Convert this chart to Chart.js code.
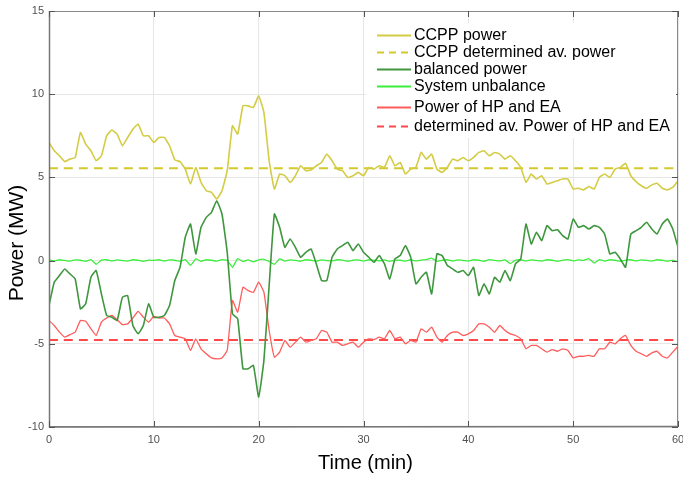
<!DOCTYPE html>
<html>
<head>
<meta charset="utf-8">
<script src="https://cdn.jsdelivr.net/npm/chart.js@4/dist/chart.umd.min.js"></script>
<style>
  html, body { margin: 0; padding: 0; background: #ffffff; }
  #wrap { width: 683px; height: 477px; position: relative; }
</style>
</head>
<body>
<div id="wrap"><canvas id="c" width="683" height="477"></canvas></div>
<script>
// ---- data (time step 0.5 min, 0..60) ----
const timeMin = Array.from({length: 121}, (_, i) => i * 0.5);

const ccppPower = [
  7.1, 6.6, 6.3, 5.95, 6.1, 6.2, 7.7, 7.0, 6.6, 6.0,
  6.3, 7.5, 7.85, 7.6, 6.9, 7.4, 7.9, 8.2, 7.5, 7.5,
  7.1, 7.4, 7.4, 6.9, 6.05, 5.95, 5.5, 4.6, 5.6, 4.7,
  4.2, 4.1, 3.7, 4.2, 5.4, 8.1, 7.6, 9.3, 9.3, 9.2,
  9.9, 8.9, 6.0, 4.3, 5.2, 5.1, 4.7, 5.1, 5.7, 5.4,
  5.45, 5.7, 5.9, 6.4, 6.0, 5.5, 5.4, 5.0, 5.1, 5.3,
  5.1, 5.6, 5.5, 5.7, 5.6, 6.3, 5.7, 5.9, 5.2, 5.5,
  5.6, 6.5, 6.1, 6.4, 5.5, 5.3, 5.6, 6.1, 6.0, 6.2,
  6.0, 6.2, 6.5, 6.6, 6.3, 6.5, 6.4, 6.1, 6.3, 6.0,
  5.6, 4.7, 5.2, 4.9, 5.1, 4.6, 4.7, 4.8, 4.9, 4.9,
  4.3, 4.35, 4.25, 4.45, 4.3, 5.0, 5.2, 5.0, 5.5, 5.6,
  5.85, 5.1, 4.75, 4.5, 4.35, 4.55, 4.65, 4.35, 4.25, 4.4,
  4.8
];

const balancedPower = [
  -2.7, -1.3, -0.9, -0.5, -0.8, -1.1, -2.9, -2.6, -1.0, -0.6,
  -2.0, -3.3, -3.4, -3.6, -2.2, -2.1, -3.9, -4.4, -3.9, -2.6,
  -3.4, -3.4, -3.3, -2.7, -1.2, -0.4, 1.4, 2.2, 0.4, 2.0,
  2.6, 2.9, 3.6, 2.8, 0.5, -3.2, -3.5, -6.5, -6.5, -6.3,
  -8.2, -6.0, -1.5, 2.8, 2.0, 0.8, 1.3, 0.8, 0.2, 0.5,
  0.7, -0.2, -1.2, -1.2, 0.2, 0.7, 0.9, 1.1, 0.6, 1.0,
  0.5, 0.2, -0.1, 0.3, -0.2, -1.1, 0.1, 0.3, 0.9, 0.2,
  -1.4, -1.0, -0.7, -2.0, 0.4, 0.3, -0.3, -0.5, -0.7, -0.6,
  -0.9, -0.4, -2.1, -1.4, -2.0, -1.0, -1.3, -0.6, -1.2, -0.2,
  0.1, 2.2, 1.0, 1.7, 1.2, 2.1, 1.8, 1.85, 1.5, 1.3,
  2.5, 2.0, 2.1, 1.9, 2.1, 2.0, 1.6, 0.4, 0.5, 0.1,
  -0.4, 1.6, 1.8, 2.0, 2.3, 1.9, 1.6, 2.2, 2.5, 1.9,
  0.8
];

const systemUnbalance = [
  0.03, -0.02, 0.05, 0.01, -0.03, 0.04, 0.02, -0.04, 0.06, -0.22,
  0.03, 0.05, -0.02, 0.04, 0.00, -0.03, 0.05, 0.02, -0.04, 0.03,
  0.01, 0.05, -0.03, 0.04, 0.02, -0.05, 0.06, -0.28, 0.10, -0.04,
  0.05, 0.02, -0.03, 0.06, 0.01, -0.40, 0.12, -0.06, 0.04, -0.08,
  0.05, 0.08, -0.05, -0.22, 0.10, -0.03, 0.04, 0.01, -0.04, 0.05,
  0.02, -0.03, 0.04, 0.00, -0.02, 0.05, 0.03, -0.04, 0.02, 0.04,
  -0.03, 0.05, 0.01, -0.02, 0.04, -0.05, 0.03, 0.02, -0.03, 0.05,
  -0.02, 0.03, 0.06, 0.15, -0.04, 0.02, 0.05, -0.03, 0.04, 0.01,
  -0.03, 0.05, 0.02, -0.04, 0.06, 0.01, -0.02, 0.04, -0.18, 0.03,
  0.05, -0.02, 0.04, 0.01, -0.03, 0.05, 0.02, -0.04, 0.03, 0.06,
  -0.02, 0.04, 0.01, 0.12, -0.15, 0.06, -0.03, 0.05, 0.02, -0.04,
  0.03, 0.05, -0.02, 0.04, 0.01, -0.03, 0.05, 0.02, -0.04, 0.03,
  -0.08
];

const hpEaPower = [
  -3.6, -3.9, -4.3, -4.6, -4.45, -4.3, -3.6, -3.65, -4.1, -4.5,
  -3.7, -3.45, -3.3, -3.55, -3.85, -3.8, -3.45, -3.05, -3.4, -3.7,
  -3.35, -3.45, -3.45, -3.8, -4.5, -4.6, -4.7, -5.4, -4.7, -5.3,
  -5.6, -5.85, -5.9, -5.85, -5.4, -2.4, -3.1, -1.6, -1.8, -1.9,
  -1.3, -1.9, -4.2, -5.8, -5.5, -4.8, -5.2, -4.9, -4.6, -4.9,
  -4.8, -4.7, -4.2, -4.3, -4.9, -4.9, -5.1, -5.0, -4.9, -5.2,
  -4.9, -4.7, -4.75, -4.6, -4.7, -4.2, -4.7, -4.6, -5.0, -4.8,
  -4.9, -4.1, -4.3, -4.0, -4.6, -4.9, -4.5, -4.3, -4.3, -4.5,
  -4.4, -4.2, -3.8, -3.8, -4.0, -4.3, -3.9, -4.2, -4.4, -4.5,
  -4.7, -5.3, -5.1, -5.1, -5.3, -5.5, -5.35, -5.45, -5.3, -5.4,
  -5.85, -5.75, -5.75, -5.7, -5.75, -5.3, -5.3, -4.9, -5.0, -4.7,
  -4.5, -5.1, -5.45, -5.6, -5.75, -5.55, -5.45, -5.75, -5.85, -5.5,
  -5.15
];

const ccppAverage = 5.55;
const hpEaAverage = -4.77;

const seriesLabels = [
  'CCPP power',
  'CCPP determined av. power',
  'balanced power',
  'System unbalance',
  'Power of HP and EA',
  'determined av. Power of HP and EA'
];
const xTickValues = [0, 10, 20, 30, 40, 50, 60];
const yTickValues = [-10, -5, 0, 5, 10, 15];
const xTitle = 'Time (min)';
const yTitle = 'Power (MW)';

// ---- build datasets ----
const toPoints = arr => arr.map((v, i) => ({x: timeMin[i], y: v}));
const flat = v => [{x: timeMin[0], y: v}, {x: timeMin[timeMin.length - 1], y: v}];

const FONT = "'Liberation Sans', Arial, sans-serif";

const datasets = [
  {label: seriesLabels[0], data: toPoints(ccppPower), borderColor: '#d4cc44', borderWidth: 1.6},
  {label: seriesLabels[1], data: flat(ccppAverage), borderColor: '#d3c92e', borderWidth: 2, borderDash: [9, 6]},
  {label: seriesLabels[2], data: toPoints(balancedPower), borderColor: '#3e963e', borderWidth: 1.6},
  {label: seriesLabels[3], data: toPoints(systemUnbalance), borderColor: '#3cee3c', borderWidth: 1.3},
  {label: seriesLabels[4], data: toPoints(hpEaPower), borderColor: '#ff5c5c', borderWidth: 1.3},
  {label: seriesLabels[5], data: flat(hpEaAverage), borderColor: '#ff4848', borderWidth: 2, borderDash: [9, 6]}
].map(d => Object.assign({pointRadius: 0, tension: 0.12, fill: false}, d));

// ---- custom drawing: frame, inner ticks, titles, legend ----
const decorPlugin = {
  id: 'decor',
  afterDraw(chart) {
    const {ctx, chartArea: a, scales} = chart;
    ctx.save();
    // frame
    ctx.strokeStyle = '#8a8a8a';
    ctx.lineWidth = 1;
    ctx.strokeRect(a.left + 0.5, a.top + 0.5, a.right - a.left - 1, a.bottom - a.top - 1);
    ctx.strokeStyle = '#777';
    ctx.lineWidth = 1.5;
    ctx.beginPath();
    ctx.moveTo(a.left + 0.5, a.top);
    ctx.lineTo(a.left + 0.5, a.bottom);
    ctx.lineTo(a.right, a.bottom - 0.5);
    ctx.stroke();
    // inner ticks
    ctx.strokeStyle = '#555';
    ctx.lineWidth = 1;
    ctx.beginPath();
    yTickValues.forEach(v => {
      const y = Math.round(scales.y.getPixelForValue(v)) + 0.5;
      ctx.moveTo(a.left, y); ctx.lineTo(a.left + 6, y);
      ctx.moveTo(a.right, y); ctx.lineTo(a.right - 6, y);
    });
    xTickValues.forEach(v => {
      const x = Math.round(scales.x.getPixelForValue(v)) + 0.5;
      ctx.moveTo(x, a.bottom); ctx.lineTo(x, a.bottom - 6);
      ctx.moveTo(x, a.top); ctx.lineTo(x, a.top + 6);
    });
    ctx.stroke();

    // axis titles
    ctx.fillStyle = '#000';
    ctx.textAlign = 'center';
    ctx.textBaseline = 'middle';
    ctx.font = '20px ' + FONT;
    ctx.fillText(xTitle, (a.left + a.right) / 2 + 2, 463);
    ctx.save();
    ctx.translate(17, 243);
    ctx.rotate(-Math.PI / 2);
    ctx.font = '21px ' + FONT;
    ctx.fillText(yTitle, 0, 0);
    ctx.restore();

    // legend
    ctx.fillStyle = '#fff';
    ctx.fillRect(366, 23, 310, 115);
    const rows = [35, 52, 69, 86, 107, 126];
    ctx.font = '16px ' + FONT;
    ctx.textAlign = 'left';
    chart.data.datasets.forEach((ds, i) => {
      const y = rows[i];
      ctx.strokeStyle = ds.borderColor;
      ctx.lineWidth = 2;
      ctx.setLineDash(ds.borderDash ? [7, 5] : []);
      ctx.beginPath();
      ctx.moveTo(377, y + 0.5);
      ctx.lineTo(411, y + 0.5);
      ctx.stroke();
      ctx.setLineDash([]);
      ctx.fillStyle = '#000';
      ctx.fillText(ds.label, 414, y + 1);
    });
    ctx.restore();
  }
};

new Chart(document.getElementById('c'), {
  type: 'line',
  data: {datasets},
  options: {
    responsive: false,
    animation: false,
    events: [],
    layout: {padding: {top: 11, right: 5, left: 0, bottom: 0}},
    plugins: {legend: {display: false}, tooltip: {enabled: false}, title: {display: false}},
    scales: {
      x: {
        type: 'linear', min: 0, max: 60,
        afterFit: s => { s.height = 50; s.paddingLeft = 0; s.paddingRight = 0; },
        afterBuildTicks: s => { s.ticks = xTickValues.map(v => ({value: v})); },
        grid: {color: '#e6e6e6', drawTicks: false},
        border: {display: false},
        ticks: {padding: 6, color: '#505050', font: {family: FONT, size: 11}, maxRotation: 0}
      },
      y: {
        type: 'linear', min: -10, max: 15,
        afterFit: s => { s.width = 49; s.paddingTop = 0; s.paddingBottom = 0; },
        afterBuildTicks: s => { s.ticks = yTickValues.map(v => ({value: v})); },
        grid: {color: '#e6e6e6', drawTicks: false},
        border: {display: false},
        ticks: {padding: 5, color: '#505050', font: {family: FONT, size: 11}}
      }
    }
  },
  plugins: [decorPlugin]
});
</script>
</body>
</html>
